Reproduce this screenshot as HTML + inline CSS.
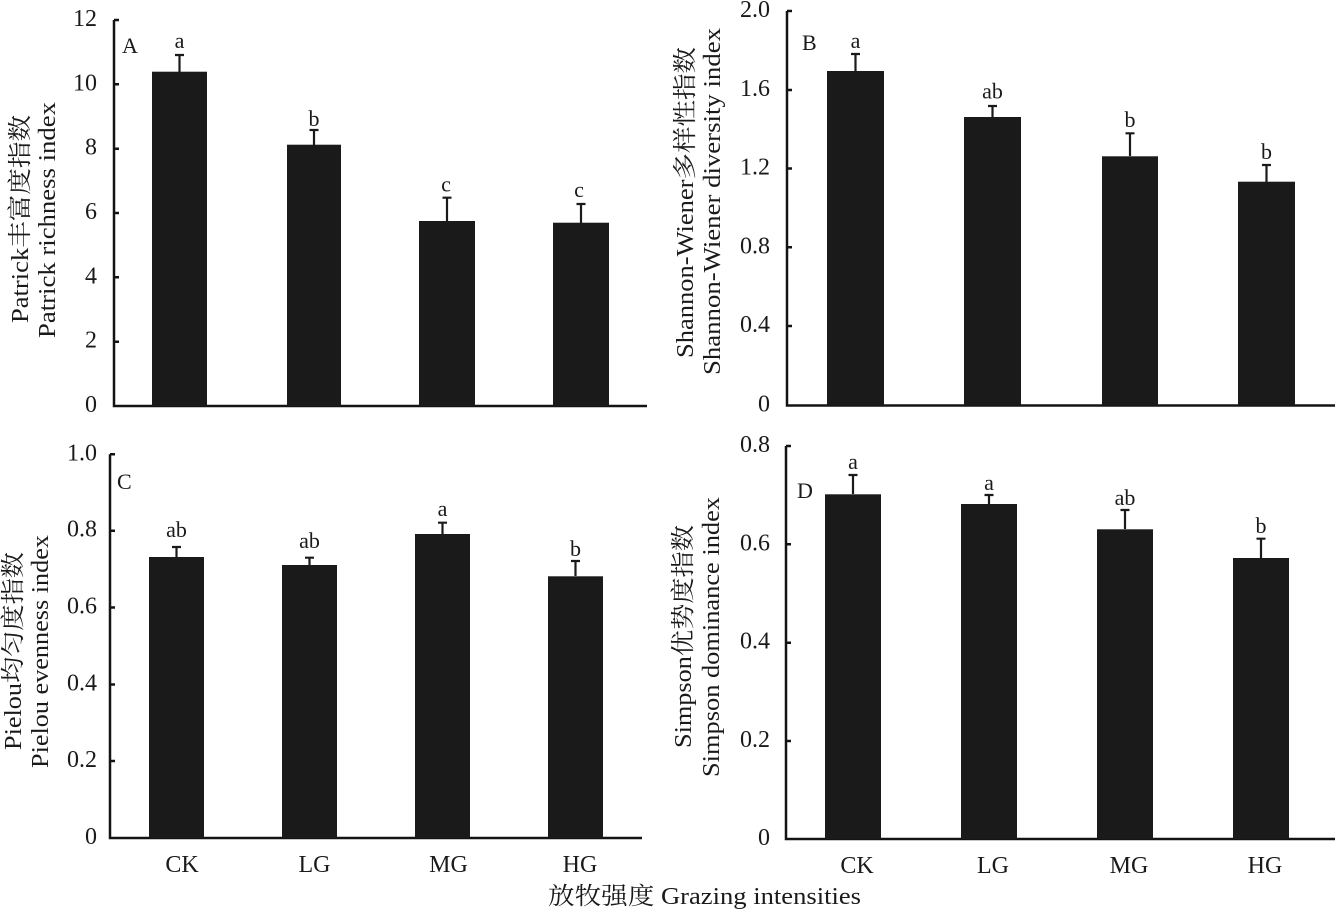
<!DOCTYPE html>
<html><head><meta charset="utf-8"><style>
html,body{margin:0;padding:0;background:#fff;}
svg{display:block;}
text{font-family:"Liberation Serif","Noto Serif CJK SC",serif;fill:#1a1a1a;}
</style></head><body>
<svg width="1335" height="910" viewBox="0 0 1335 910" xmlns="http://www.w3.org/2000/svg">
<rect width="1335" height="910" fill="#fff"/>
<g stroke="#141414" stroke-width="2.5" fill="none">
<!-- Panel A axes -->
<path d="M114,20 V406 H647"/>
<path d="M114,20 h5 M114,84.3 h5 M114,148.7 h5 M114,213 h5 M114,277.3 h5 M114,341.7 h5"/>
<!-- Panel B axes -->
<path d="M787,11 V405.5 H1335"/>
<path d="M787,11 h5 M787,90 h5 M787,168.5 h5 M787,247.3 h5 M787,326 h5"/>
<!-- Panel C axes -->
<path d="M110,454.3 V838 H642"/>
<path d="M110,454.3 h5 M110,530.7 h5 M110,607.5 h5 M110,684.5 h5 M110,761 h5"/>
<!-- Panel D axes -->
<path d="M786,446 V839 H1335"/>
<path d="M786,446 h5 M786,544.3 h5 M786,642.7 h5 M786,741 h5"/>
</g>
<g fill="#1b1a1a">
<!-- A bars -->
<rect x="152" y="71.7" width="55" height="334.3"/>
<rect x="287" y="144.7" width="54" height="261.3"/>
<rect x="419" y="221" width="56" height="185"/>
<rect x="553" y="222.7" width="56" height="183.3"/>
<!-- B bars -->
<rect x="827" y="71" width="57" height="334.5"/>
<rect x="964" y="117" width="57" height="288.5"/>
<rect x="1102" y="156.3" width="56" height="249.2"/>
<rect x="1238" y="181.7" width="57" height="223.8"/>
<!-- C bars -->
<rect x="149" y="557" width="55" height="281"/>
<rect x="282" y="565" width="55" height="273"/>
<rect x="415" y="534" width="55" height="304"/>
<rect x="548" y="576.3" width="55" height="261.7"/>
<!-- D bars -->
<rect x="825" y="494.3" width="56" height="344.7"/>
<rect x="961" y="504" width="56" height="335"/>
<rect x="1097" y="529.3" width="56" height="309.7"/>
<rect x="1233" y="558" width="56" height="281"/>
</g>
<g stroke="#1b1a1a" stroke-width="2.2" fill="none">
<!-- error bars A -->
<path d="M179.5,72 V55 M175,55 h9"/>
<path d="M314,145 V130 M309.5,130 h9"/>
<path d="M447,221 V197.7 M442.5,197.7 h9"/>
<path d="M581,223 V204 M576.5,204 h9"/>
<!-- B -->
<path d="M855.5,71 V54 M851,54 h9"/>
<path d="M992.5,117 V106 M988,106 h9"/>
<path d="M1130,156 V133.3 M1125.5,133.3 h9"/>
<path d="M1266.5,182 V165 M1262,165 h9"/>
<!-- C -->
<path d="M176.5,557 V547 M172,547 h9"/>
<path d="M309.5,565 V557.7 M305,557.7 h9"/>
<path d="M442.5,534 V522.7 M438,522.7 h9"/>
<path d="M575.5,576 V561 M571,561 h9"/>
<!-- D -->
<path d="M853,494 V475 M848.5,475 h9"/>
<path d="M989,504 V495 M984.5,495 h9"/>
<path d="M1125,529 V510 M1120.5,510 h9"/>
<path d="M1261,558 V538.7 M1256.5,538.7 h9"/>
</g>
<!-- tick labels -->
<g font-size="24" text-anchor="end">
<text x="97" y="26">12</text><text x="97" y="90.3">10</text><text x="97" y="154.7">8</text><text x="97" y="219">6</text><text x="97" y="283.3">4</text><text x="97" y="347.7">2</text><text x="97" y="412">0</text>
<text x="770" y="17">2.0</text><text x="770" y="96">1.6</text><text x="770" y="174.5">1.2</text><text x="770" y="253.3">0.8</text><text x="770" y="332">0.4</text><text x="770" y="411.5">0</text>
<text x="97" y="460.3">1.0</text><text x="97" y="536.7">0.8</text><text x="97" y="613.5">0.6</text><text x="97" y="690.5">0.4</text><text x="97" y="767">0.2</text><text x="97" y="844">0</text>
<text x="770" y="452">0.8</text><text x="770" y="550.3">0.6</text><text x="770" y="648.7">0.4</text><text x="770" y="747">0.2</text><text x="770" y="845">0</text>
</g>
<!-- panel letters -->
<g font-size="22">
<text x="122" y="53">A</text>
<text x="802" y="50">B</text>
<text x="117" y="489">C</text>
<text x="797" y="498">D</text>
</g>
<!-- significance letters -->
<g font-size="22" text-anchor="middle">
<text x="179.5" y="48">a</text>
<text x="314" y="126">b</text>
<text x="446" y="191.7">c</text>
<text x="579" y="197">c</text>
<text x="855.5" y="48">a</text>
<text x="992.5" y="98.5">ab</text>
<text x="1130" y="127">b</text>
<text x="1266.5" y="159">b</text>
<text x="176.5" y="537">ab</text>
<text x="309.5" y="548">ab</text>
<text x="442.5" y="516">a</text>
<text x="575.5" y="556">b</text>
<text x="853" y="469">a</text>
<text x="989" y="490">a</text>
<text x="1125" y="505">ab</text>
<text x="1261" y="533">b</text>
</g>
<!-- category labels -->
<g font-size="24" text-anchor="middle">
<text x="182" y="872">CK</text><text x="314.5" y="872">LG</text><text x="448.5" y="872">MG</text><text x="580" y="872">HG</text>
<text x="857" y="873">CK</text><text x="993" y="873">LG</text><text x="1129" y="873">MG</text><text x="1265" y="873">HG</text>
</g>
<text x="548" y="904" font-size="24" textLength="313" lengthAdjust="spacingAndGlyphs">放牧强度 Grazing intensities</text>
<!-- y axis labels -->
<g font-size="24" text-anchor="middle">
<text transform="translate(28,219) rotate(-90)" textLength="208" lengthAdjust="spacingAndGlyphs">Patrick丰富度指数</text>
<text transform="translate(55,220) rotate(-90)" textLength="236" lengthAdjust="spacingAndGlyphs">Patrick richness index</text>
<text transform="translate(693,202.5) rotate(-90)" textLength="311" lengthAdjust="spacingAndGlyphs">Shannon-Wiener多样性指数</text>
<text transform="translate(720,201.5) rotate(-90)" textLength="347" lengthAdjust="spacingAndGlyphs">Shannon-Wiener diversity index</text>
<text transform="translate(21,651) rotate(-90)" textLength="198" lengthAdjust="spacingAndGlyphs">Pielou均匀度指数</text>
<text transform="translate(48,651.5) rotate(-90)" textLength="233" lengthAdjust="spacingAndGlyphs">Pielou evenness index</text>
<text transform="translate(691,636.5) rotate(-90)" textLength="223" lengthAdjust="spacingAndGlyphs">Simpson优势度指数</text>
<text transform="translate(719,637) rotate(-90)" textLength="280" lengthAdjust="spacingAndGlyphs">Simpson dominance index</text>
</g>
</svg>
</body></html>
